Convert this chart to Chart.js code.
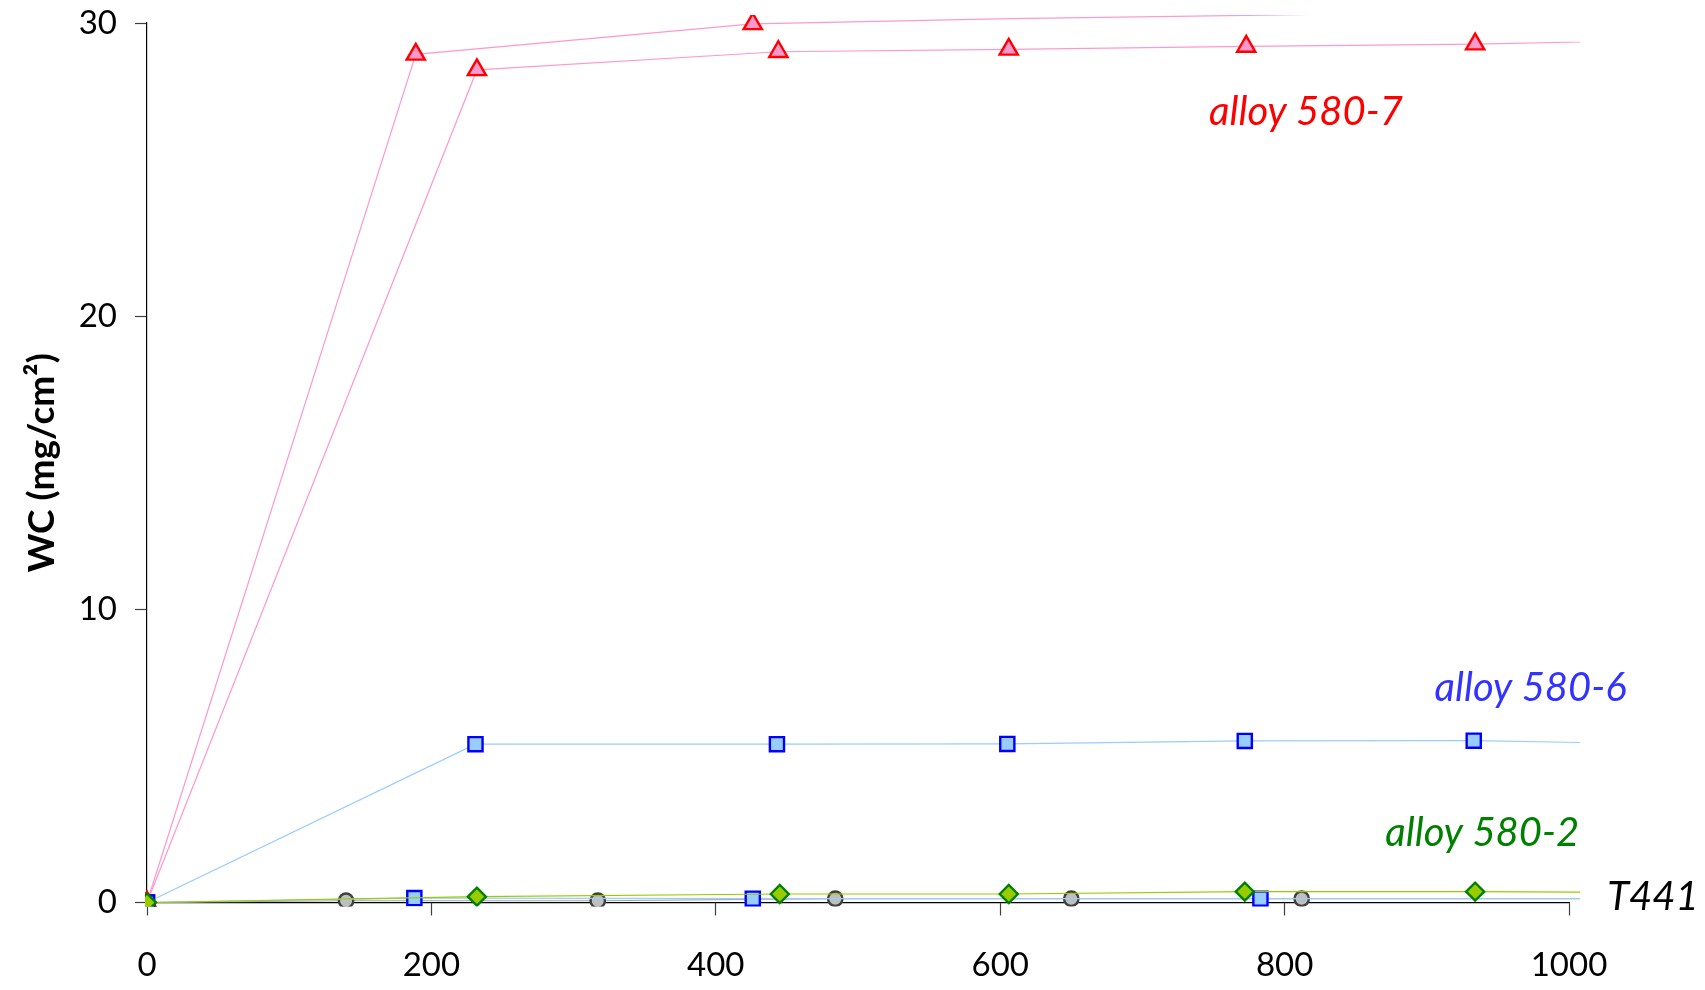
<!DOCTYPE html>
<html>
<head>
<meta charset="utf-8">
<title>WC vs time</title>
<script src="https://cdn.jsdelivr.net/npm/chart.js@4.4.1/dist/chart.umd.min.js"></script>
<style>
  html, body { margin: 0; padding: 0; background: #ffffff; }
  #wrap { width: 1705px; height: 990px; position: relative; }
</style>
</head>
<body>
<div id="wrap"><canvas id="chart"></canvas></div>
<script>
// Exposure time (x) and WC values (y), one pair of arrays per curve.
// Points past the axis limits continue each curve up to the plot edge.
const t580_7a  = [0, 232, 444, 606, 773, 934, 1100];
const wc580_7a = [0, 28.40, 29.02, 29.10, 29.20, 29.28, 29.44];

const t580_7b  = [0, 189, 426, 607, 773, 934];
const wc580_7b = [0, 28.93, 29.97, 30.15, 30.26, 30.38];

const t580_6a  = [0, 231, 443, 605, 772, 933, 1100];
const wc580_6a = [0, 5.40, 5.40, 5.41, 5.51, 5.52, 5.38];

const t580_6b  = [0, 188, 426, 783, 1100];
const wc580_6b = [0, 0.15, 0.13, 0.13, 0.13];

const t580_2   = [0, 232, 445, 606, 772, 934, 1100];
const wc580_2  = [0, 0.20, 0.29, 0.29, 0.37, 0.37, 0.33];

const tT441    = [0, 140, 317, 484, 650, 812, 1100];
const wcT441   = [0, 0.06, 0.06, 0.13, 0.13, 0.13, 0.13];

const xTicks = [0, 200, 400, 600, 800, 1000];
const yTicks = [0, 10, 20, 30];
const xMax = 1000;
const yMax = 30;

// Curve names, written beside the curves (position in data units).
const curveNames  = ['alloy 580-7', 'alloy 580-6', 'alloy 580-2', 'T441'];
const nameColors  = ['#ff0000', '#3333ff', '#008000', '#000000'];
const nameAtX     = [815, 973, 939, 1059];
const nameAtY     = [26.95, 7.31, 2.37, 0.19];

const pairs = (xs, ys) => xs.map((x, i) => ({ x: x, y: ys[i] }));

// Lines may run slightly past the axes before they are cut off.
const clipBox = { left: 2, top: 8, right: 11, bottom: 4 };

function series(xs, ys, line, fill, edge, shape, r) {
  // Markers are only shown for points that lie inside the axis ranges.
  const size = (c) => (c.raw && (c.raw.x > xMax || c.raw.y > yMax)) ? 0 : r;
  return {
    data: pairs(xs, ys),
    showLine: true,
    borderColor: line,
    borderWidth: 1.2,
    pointStyle: shape,
    pointRadius: size,
    pointHoverRadius: size,
    pointBackgroundColor: fill,
    pointBorderColor: edge,
    pointBorderWidth: 2.4,
    tension: 0,
    clip: clipBox
  };
}

const curveNamePlugin = {
  id: 'curveNames',
  afterDatasetsDraw(chart) {
    const { ctx, scales } = chart;
    ctx.save();
    ctx.font = 'italic 40px Lato';
    ctx.textAlign = 'center';
    ctx.textBaseline = 'middle';
    curveNames.forEach((name, i) => {
      ctx.fillStyle = nameColors[i];
      ctx.fillText(name, scales.x.getPixelForValue(nameAtX[i]), scales.y.getPixelForValue(nameAtY[i]));
    });
    ctx.restore();
  }
};

new Chart(document.getElementById('chart'), {
  type: 'scatter',
  data: {
    datasets: [
      series(t580_2,   wc580_2,   '#99cc00', '#99cc00', '#008000', 'rectRot', 9),
      series(t580_6a,  wc580_6a,  '#99ccff', '#99ccff', '#0000ff', 'rect', 10),
      series(t580_6b,  wc580_6b,  '#99ccff', '#99ccff', '#0000ff', 'rect', 10),
      series(t580_7a,  wc580_7a,  '#ff99cc', '#ff99cc', '#ff0000', 'triangle', 10.5),
      series(t580_7b,  wc580_7b,  '#ff99cc', '#ff99cc', '#ff0000', 'triangle', 10.5),
      series(tT441,    wcT441,    '#a6a6a6', '#bfbfbf', '#404040', 'circle', 7.2)
    ]
  },
  options: {
    responsive: true,
    maintainAspectRatio: false,
    animation: false,
    events: [],
    layout: { padding: { top: 23, right: 136, left: 0, bottom: 0 } },
    plugins: { legend: { display: false }, tooltip: { enabled: false } },
    scales: {
      x: {
        type: 'linear',
        min: 0,
        max: xMax,
        afterBuildTicks: (axis) => { axis.ticks = xTicks.map(v => ({ value: v })); },
        afterFit: (axis) => { axis.height = 87.5; axis.paddingLeft = 0; axis.paddingRight = 0; },
        border: { display: true, color: '#000000', width: 1.2 },
        grid: { drawOnChartArea: false, drawTicks: true, tickLength: 13, tickColor: '#404040', tickWidth: 1.2 },
        ticks: { color: '#000000', font: { family: 'Lato', size: 33 }, padding: 30, maxRotation: 0,
                 callback: (v) => String(v) }
      },
      y: {
        type: 'linear',
        min: 0,
        max: yMax,
        afterBuildTicks: (axis) => { axis.ticks = yTicks.map(v => ({ value: v })); },
        afterFit: (axis) => { axis.width = 147; axis.paddingTop = 0; axis.paddingBottom = 0; },
        border: { display: true, color: '#000000', width: 1.2 },
        grid: { drawOnChartArea: false, drawTicks: true, tickLength: 12, tickColor: '#404040', tickWidth: 1.2 },
        ticks: { color: '#000000', font: { family: 'Lato', size: 33 }, padding: 18,
                 callback: (v) => String(v) },
        title: {
          display: true,
          text: 'WC (mg/cm²)',
          color: '#000000',
          font: { family: 'Lato', size: 37, weight: 'bold' },
          padding: { top: 20, bottom: 0 }
        }
      }
    }
  },
  plugins: [curveNamePlugin]
});
</script>
</body>
</html>
